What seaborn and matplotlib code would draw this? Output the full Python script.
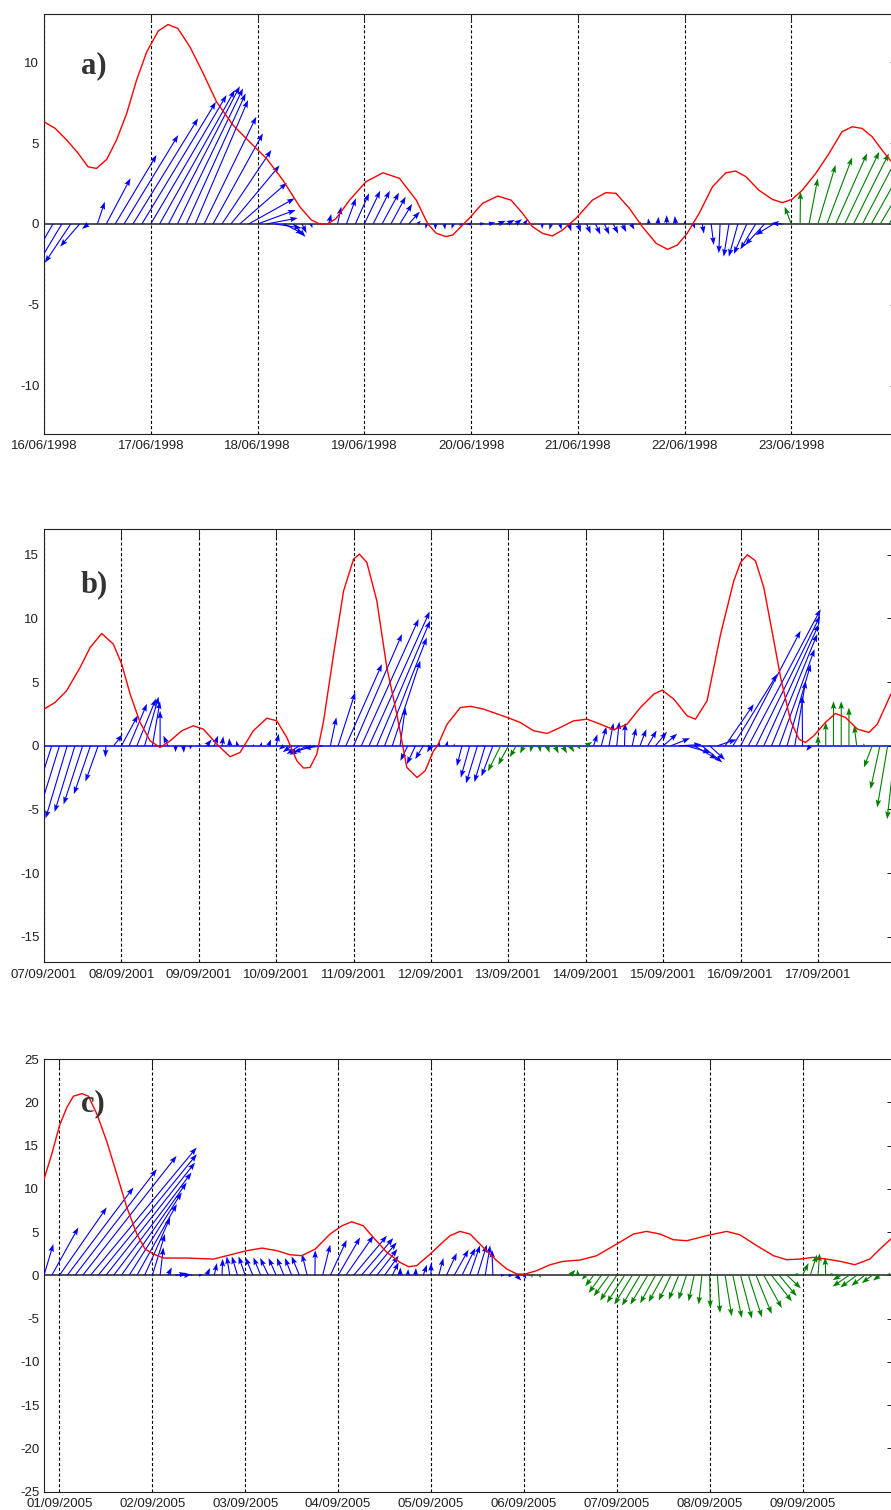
import numpy as np
import pandas as pd
import matplotlib
matplotlib.use("Agg")
import matplotlib.pyplot as plt
import seaborn as sns

# ---------------- a) 16/06/1998 - 24/06/1998, vectors every 2 h ----------------
a_first_hour, a_step_hours = 0.0, 2.0
a_u = [-1.5, -1.5, -1.5, -1.6, -1.2, -0.4,
       0.46, 1.5, 2.56, 3.35, 4.03, 4.58,
       4.69, 4.65, 4.41, 4.06, 3.67, 3.27,
       3.23, 3.09, 3.06, 3.02, 2.92, 2.85,
       2.36, 1.94, 1.63, 1.2, 0.77, 0.28,
       0.1, 0.05, 0.16, 0.23, 0.58, 0.85,
       0.99, 1.03, 1.05, 0.91, 0.76, 0.68,
       0.2, -0.05, 0.0, 0.05, -0.1, -0.2,
       -0.3, 0.3, 0.4, 0.5, 0.5, 0.4,
       0.2, 0.0, 0.0, -0.1, 0.1, 0.15,
       0.2, 0.25, 0.3, 0.3, 0.3, 0.25,
       0.2, 0.05, -0.05, 0.05, 0.0, -0.05,
       0.0, 0.1, 0.1, 0.16, -0.08, -0.33,
       -0.56, -0.8, -0.95, -1.2, -1.11, -0.7,
       -0.41, 0.02, 0.54, 1.09, 1.57, 1.94,
       2.14, 2.19, 2.3, 2.4, 2.5, 2.5]
a_v = [-2.6, -2.6, -2.5, -2.4, -1.4, -0.3,
       1.38, 2.83, 4.27, 5.5, 6.54, 7.56,
       7.98, 8.29, 8.53, 8.39, 8.08, 7.67,
       6.64, 5.61, 4.58, 3.63, 2.55, 1.59,
       0.87, 0.37, -0.25, -0.62, -0.8, -0.56,
       -0.25, 0.1, 0.62, 1.07, 1.59, 1.9,
       2.06, 2.06, 1.94, 1.69, 1.24, 0.76,
       0.2, -0.3, -0.35, -0.35, -0.3, -0.1,
       0.0, 0.05, 0.1, 0.2, 0.25, 0.3,
       0.3, -0.1, -0.3, -0.35, -0.35, -0.45,
       -0.5, -0.6, -0.65, -0.65, -0.6, -0.5,
       -0.35, 0.15, 0.35, 0.45, 0.55, 0.5,
       0.2, -0.3, -0.6, -1.3, -1.81, -2.02,
       -2.02, -1.86, -1.57, -1.3, -0.68, 0.05,
       1.07, 2.0, 2.82, 3.65, 4.12, 4.37,
       4.47, 4.37, 4.4, 4.3, 4.2, 4.1]
a_regimes = [("blue", 84), ("green", 12)]
a_line_hours = [0, 2.5, 5.1, 7.7, 9.9, 11.8, 14.1, 16.3, 18.6, 20.8, 23.1, 25.7,
                27.9, 30.1, 32.8, 35.8, 38.8, 42.5, 46.2, 50.0, 53.7, 57.5, 60.1,
                62.0, 63.8, 65.7, 68.7, 72.4, 76.2, 79.9, 83.7, 86.3, 88.2, 90.4,
                91.9, 95.6, 98.6, 102.0, 105.0, 107.6, 109.8, 112.1, 114.3, 116.6,
                119.6, 123.3, 126.3, 128.6, 131.6, 134.5, 137.6, 140.2, 142.4,
                144.6, 147.3, 150.3, 153.3, 155.5, 157.8, 160.7, 163.7, 166.0,
                168.2, 170.5, 173.5, 176.5, 179.4, 181.7, 183.9, 186.2, 188.4,
                190.2, 192.0]
a_line_vals = [6.33, 5.92, 5.2, 4.37, 3.54, 3.44, 4.0, 5.2, 6.85, 8.9, 10.66, 11.95,
               12.35, 12.1, 10.97, 9.32, 7.56, 6.12, 5.09, 4.06, 2.72, 1.07, 0.25,
               0.0, 0.0, 0.35, 1.48, 2.62, 3.17, 2.83, 1.48, 0.0, -0.58, -0.78,
               -0.68, 0.35, 1.28, 1.73, 1.48, 0.66, -0.16, -0.58, -0.74, -0.37,
               0.35, 1.48, 1.94, 1.9, 0.97, -0.16, -1.19, -1.57, -1.3,
               -0.58, 0.66, 2.31, 3.17, 3.28, 2.93, 2.1, 1.53, 1.32,
               1.53, 2.1, 3.13, 4.37, 5.71, 6.02, 5.92, 5.4, 4.58,
               3.96, 3.5]
a_dates = ["16/06/1998", "17/06/1998", "18/06/1998", "19/06/1998",
           "20/06/1998", "21/06/1998", "22/06/1998", "23/06/1998"]

# ---------------- b) 07/09/2001 - 18/09/2001, vectors every 2.4 h ----------------
b_first_hour, b_step_hours = 0.0, 2.4
b_u = [-1.8, -1.8, -1.8, -1.7, -1.6, -1.5, -1.3, -1.0, -0.05, 0.7,
       1.3, 1.4, 1.5, 1.1, 0.6, 0.0, -0.35, 0.0, 0.05, -0.1,
       0.2, 0.4, 0.3, 0.1, -0.05, -0.1, 0.0, 0.05, 0.1, 0.2,
       0.2, -0.4, -0.7, -1.0, -1.4, -1.7, -1.5, 0.47, 1.34, 2.83,
       3.8, 4.5, 4.76, 4.19, 3.32, 2.2, 0.42, -0.58, -0.68, -0.63,
       -0.31, 0.1, 0.1, 0.0, -0.4, -0.7, -0.9, -0.85, -0.9, -1.0,
       -0.8, -0.5, -0.3, -0.1, 0.1, 0.2, 0.3, 0.35, 0.3, 0.2,
       0.5, 0.3, 0.4, 0.35, 0.2, 0.05, 0.3, 0.5, 0.7, 0.9,
       1.1, 1.5, 1.8, 1.9, 1.8, 1.6, 1.2, 1.5, 2.25, 3.48,
       4.71, 5.68, 5.03, 4.32, 3.59, 2.77, 1.86, 0.86, -0.03, -0.3,
       0.0, 0.0, 0.0, 0.0, 0.0, -0.2, -0.1, -0.65, -0.74, -0.82,
       -0.65]
b_v = [-5.0, -5.6, -5.8, -5.7, -5.2, -4.6, -3.8, -2.8, -0.9, 0.9,
       2.4, 3.3, 3.7, 3.85, 3.5, 2.75, 0.8, -0.5, -0.55, -0.3,
       0.1, 0.5, 0.8, 0.75, 0.6, 0.4, 0.1, 0.15, 0.3, 0.5,
       0.95, -0.3, -0.5, -0.65, -0.7, -0.5, -0.2, 2.23, 4.19, 6.41,
       8.77, 9.95, 10.55, 9.82, 8.5, 6.68, 3.0, -1.18, -1.44, -1.05,
       -0.52, 0.3, 0.4, 0.2, -1.6, -2.5, -2.95, -2.85, -2.4, -2.0,
       -1.5, -0.9, -0.6, -0.5, -0.5, -0.55, -0.6, -0.6, -0.5, -0.3,
       0.3, 0.9, 1.5, 1.8, 1.9, 1.8, 1.4, 1.3, 1.2, 1.1,
       0.95, 0.6, 0.1, -0.55, -1.05, -1.3, -1.1, 0.5, 3.27, 5.63,
       9.03, 10.73, 10.2, 9.55, 8.77, 7.59, 6.41, 5.1, 3.93, -0.4,
       0.8, 1.85, 3.5, 3.5, 3.0, 1.6, 0.2, -1.7, -3.4, -4.84,
       -5.76]
b_regimes = [("blue", 59), ("green", 12), ("blue", 29), ("green", 11)]
b_line_hours = [0, 3.4, 7.0, 11.2, 14.3, 17.9, 21.5, 24.1, 26.7, 29.8,
                32.9, 36.0, 39.1, 42.7, 46.3, 49.4, 53.6, 57.7, 60.8, 64.9,
                69.1, 72.2, 75.3, 78.4, 80.5, 82.5, 84.6, 86.7, 89.8, 92.9,
                96.0, 97.8, 100.1, 103.2, 106.3, 109.4, 112.5, 115.7, 118.2, 120.8,
                122.0, 125.0, 129.1, 132.2, 136.3, 143.6, 147.7, 151.8, 156.0, 160.1,
                164.2, 168.4, 172.5, 176.7, 180.8, 184.9, 189.1, 191.7, 195.3, 199.4,
                202.0, 205.6, 209.8, 213.9, 216.0, 218.1, 220.6, 223.2, 226.3, 228.4,
                231.5, 234.1, 236.1, 238.7, 242.3, 245.4, 248.5, 252.2, 255.8, 258.4,
                262.5, 264.0]
b_line_vals = [2.88, 3.4, 4.32, 6.15, 7.72, 8.82, 7.98, 6.41, 4.06, 1.83,
               0.39, -0.13, 0.39, 1.18, 1.57, 1.31, 0.13, -0.86, -0.52, 1.18,
               2.17, 1.96, 0.65, -1.18, -1.75, -1.7, -0.65, 1.96, 7.2, 12.17,
               14.66, 15.05, 14.4, 11.39, 6.15, 2.49, -1.7, -2.49, -1.96, -0.39,
               0.0, 1.7, 3.0, 3.1, 2.88, 2.23, 1.83, 1.18, 0.97, 1.44,
               1.96, 2.09, 1.7, 1.26, 1.7, 3.0, 4.06, 4.37, 3.66, 2.36,
               2.09, 3.53, 8.77, 12.96, 14.4, 15.0, 14.53, 12.43, 8.25, 5.37,
               1.96, 0.52, 0.26, 0.79, 1.83, 2.54, 2.23, 1.31, 1.05, 1.7,
               4.0, 4.6]
b_dates = ["07/09/2001", "08/09/2001", "09/09/2001", "10/09/2001",
           "11/09/2001", "12/09/2001", "13/09/2001", "14/09/2001",
           "15/09/2001", "16/09/2001", "17/09/2001"]

# ---------------- c) 31/08/2005 20h - 10/09/2005, vectors every 2 h ----------------
c_first_hour, c_step_hours = -4.0, 2.0
c_u = [1.08, 3.08, 5.46, 7.65, 9.46, 10.85, 12.27, 11.4, 10.3, 9.0,
       7.54, 6.08, 4.62, 2.96, 1.46, 0.38, 0.46, 1.3, 0.96, 0.2,
       0.5, 0.42, 0.3, 0.08, -0.35, -0.65, -0.77, -0.88, -0.85, -0.96,
       -0.88, -0.81, -0.77, -0.9, -0.6, 0.04, 0.88, 1.88, 2.54, 3.19,
       3.85, 3.69, 3.19, 2.38, 1.62, 0.73, 0.04, 0.05, 0.05, 0.42,
       0.0, 0.54, 1.19, 1.65, 1.54, 1.19, 1.08, 0.58, -0.12, 0.5,
       0.6, 0.6, 0.3, 0.1, 0.2, 0.1, 0.2, 0.1, 0.58, -0.1,
       -0.46, -0.96, -1.46, -1.77, -1.92, -2.04, -2.08, -2.08, -2.0, -1.77,
       -1.69, -1.42, -1.15, -0.92, -0.65, -0.38, 0.08, 0.31, 0.77, 1.04,
       1.31, 1.58, 1.81, 2.08, 2.35, 2.0, 1.6, 0.42, 0.69, 0.77,
       0.19, -0.08, -0.38, -1.0, -1.9, -1.9, -1.5, -1.2, -0.8, 0.3,
       0.5]
c_v = [3.62, 5.54, 7.85, 10.15, 12.27, 13.8, 14.77, 14.0, 13.04, 11.88,
       10.73, 9.58, 8.23, 6.69, 4.77, 3.23, 0.92, 0.23, 0.08, 0.05,
       0.1, 0.85, 1.42, 1.92, 2.19, 2.19, 2.19, 2.08, 2.08, 2.0,
       2.0, 2.0, 2.0, 2.2, 2.46, 2.9, 3.54, 4.08, 4.38, 4.58,
       4.58, 4.31, 3.81, 3.04, 2.27, 1.5, 0.92, 0.73, 0.85, 1.23,
       1.42, 2.0, 2.58, 2.96, 3.15, 3.46, 3.54, 3.46, 2.96, 0.05,
       0.0, -0.6, -0.4, -0.3, -0.3, -0.1, 0.1, 0.1, 0.65, 0.65,
       -0.5, -1.27, -2.04, -2.42, -2.92, -3.19, -3.38, -3.5, -3.38, -3.23,
       -3.08, -2.92, -2.81, -2.81, -3.0, -3.38, -3.77, -4.35, -4.73, -4.92,
       -5.0, -4.85, -4.46, -3.77, -3.0, -2.4, -1.5, 0.27, 1.42, 2.38,
       2.54, 2.08, 0.27, -0.55, -1.3, -1.4, -1.2, -0.9, -0.6, 0.3,
       0.4]
c_regimes = [("blue", 63), ("green", 48)]
c_line_hours = [-4, -2.0, 0, 1.9, 3.6, 5.8, 7.5, 9.7, 12.2, 14.8,
                17.4, 20.0, 22.1, 24.3, 26.9, 32.9, 39.8, 44.9, 48.4, 52.3,
                56.2, 59.6, 62.6, 66.1, 69.9, 73.0, 75.5, 78.5, 81.1, 84.6,
                88.0, 90.2, 92.3, 95.8, 99.2, 100.9, 103.5, 106.1, 109.5, 113.0,
                115.6, 118.2, 120.3, 123.3, 126.8, 130.2, 134.5, 138.8, 144.0, 148.3,
                151.7, 155.2, 158.6, 162.1, 167.2, 172.4, 175.8, 180.2, 184.5, 187.9,
                191.3, 194.8, 198.2, 201.7, 205.5, 209.4, 212.0, 214.8, 216.0]
c_line_vals = [11.1, 14.0, 17.3, 19.4, 20.7, 21.0, 20.7, 18.6, 15.5, 11.7,
               7.85, 4.77, 3.04, 2.46, 2.0, 2.0, 1.88, 2.46, 2.85, 3.15,
               2.85, 2.38, 2.27, 3.04, 4.77, 5.73, 6.19, 5.73, 4.38, 2.65,
               1.5, 1.0, 1.12, 2.46, 3.9, 4.58, 5.08, 4.77, 3.23, 1.69,
               0.73, 0.15, 0.15, 0.54, 1.23, 1.62, 1.77, 2.27, 3.62, 4.77,
               5.08, 4.77, 4.12, 4.0, 4.58, 5.08, 4.69, 3.42, 2.27, 1.81,
               1.88, 2.08, 1.88, 1.62, 1.23, 1.88, 3.04, 4.19, 4.6]
c_dates = ["01/09/2005", "02/09/2005", "03/09/2005", "04/09/2005",
           "05/09/2005", "06/09/2005", "07/09/2005", "08/09/2005", "09/09/2005"]

VECTOR_COLORS = {"blue": "#0000ff", "green": "#008000"}


def expand_runs(runs):
    out = []
    for name, count in runs:
        out.extend([name] * count)
    return out


sns.set_style("white")
plt.rcParams.update({
    "font.family": ["Liberation Sans", "DejaVu Sans"],
    "axes.unicode_minus": False,
    "lines.scale_dashes": False,
    "axes.edgecolor": "#202020",
    "axes.linewidth": 0.8,
})

W, H = 891.0, 1510.0
fig = plt.figure(figsize=(W / 100, H / 100), dpi=100)

panels = [
    dict(rect=(44, 14, 898, 434), first=a_first_hour, step=a_step_hours,
         u=a_u, v=a_v, regimes=a_regimes, lh=a_line_hours, lv=a_line_vals,
         dates=a_dates, xlim=(0, 8), ylim=(-13, 13), yticks=[-10, -5, 0, 5, 10],
         base="#202020", label="a)", label_y=0.876),
    dict(rect=(44, 529.3, 895.4, 962.3), first=b_first_hour, step=b_step_hours,
         u=b_u, v=b_v, regimes=b_regimes, lh=b_line_hours, lv=b_line_vals,
         dates=b_dates, xlim=(0, 11), ylim=(-17, 17), yticks=[-15, -10, -5, 0, 5, 10, 15],
         base="#0000ff", label="b)", label_y=0.871),
    dict(rect=(44, 1059, 895.4, 1491.7), first=c_first_hour, step=c_step_hours,
         u=c_u, v=c_v, regimes=c_regimes, lh=c_line_hours, lv=c_line_vals,
         dates=c_dates, xlim=(-4 / 24, 9), ylim=(-25, 25),
         yticks=[-25, -20, -15, -10, -5, 0, 5, 10, 15, 20, 25],
         base="#202020", label="c)", label_y=0.896),
]

for p in panels:
    x0, y0, x1, y1 = p["rect"]
    ax = fig.add_axes([x0 / W, 1 - y1 / H, (x1 - x0) / W, (y1 - y0) / H])

    n = len(p["u"])
    hours = p["first"] + p["step"] * np.arange(n)
    df = pd.DataFrame({"day": hours / 24.0, "u": p["u"], "v": p["v"],
                       "regime": expand_runs(p["regimes"])})

    ax.axhline(0, color=p["base"], lw=1.1, zorder=2)

    # stick vectors anchored on the zero line, drawn on the y scale
    for name, sub in df.groupby("regime"):
        ax.quiver(sub["day"].to_numpy(), np.zeros(len(sub)),
                  sub["u"].to_numpy(), sub["v"].to_numpy(),
                  angles="uv", scale_units="y", scale=1.0,
                  color=VECTOR_COLORS[name], width=0.0013,
                  headwidth=5, headlength=7, headaxislength=6,
                  zorder=3)

    sns.lineplot(x=np.asarray(p["lh"]) / 24.0, y=p["lv"], ax=ax,
                 color="#ff0000", lw=1.0, sort=False, estimator=None, zorder=4)

    ax.set_xlim(*p["xlim"])
    ax.set_ylim(*p["ylim"])
    ax.set_xticks(np.arange(len(p["dates"])))
    ax.set_xticklabels(p["dates"])
    ax.set_yticks(p["yticks"])
    ax.set_yticklabels([str(t) for t in p["yticks"]])
    ax.set_xlabel("")
    ax.set_ylabel("")
    ax.grid(False)
    ax.xaxis.grid(True, color="black", lw=0.8, linestyle=(0, (2.2, 1.6)))
    ax.tick_params(axis="both", direction="in", length=6, width=0.7,
                   top=True, right=True, labelsize=9.5, colors="#202020")
    ax.tick_params(axis="x", pad=4.5)
    ax.tick_params(axis="y", pad=3.4)
    for s in ax.spines.values():
        s.set_visible(True)

    ax.text(0.0435, p["label_y"], p["label"], transform=ax.transAxes,
            ha="left", va="center", fontsize=22, fontweight="bold",
            family=["Liberation Serif", "DejaVu Serif"], color="#333333", zorder=5)

fig.savefig("out.png", dpi=100)
